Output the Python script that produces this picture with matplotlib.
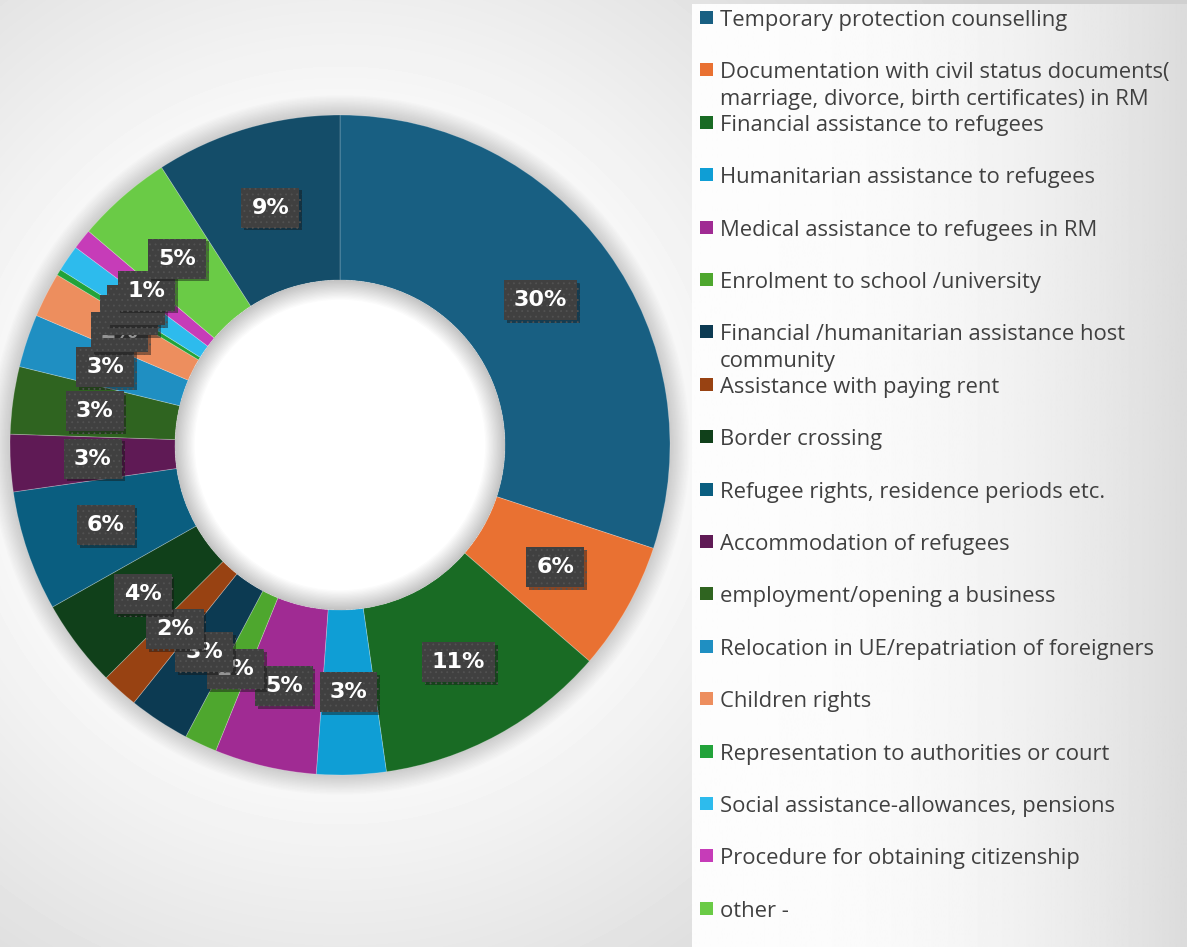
import numpy as np
import matplotlib.pyplot as plt
from matplotlib.patches import Rectangle, Wedge
import matplotlib.patheffects as pe

# categorias da legenda (a 19a fatia, 9%, nao aparece na legenda visivel)
categories = [
    'Temporary protection counselling',
    'Documentation with civil status documents(\nmarriage, divorce, birth certificates) in RM',
    'Financial assistance to refugees',
    'Humanitarian assistance to refugees',
    'Medical assistance to refugees in RM',
    'Enrolment to school /university',
    'Financial /humanitarian assistance host\ncommunity',
    'Assistance with paying rent',
    'Border crossing',
    'Refugee rights, residence periods etc.',
    'Accommodation of refugees',
    'employment/opening a business',
    'Relocation in UE/repatriation of foreigners',
    'Children rights',
    'Representation to authorities or court',
    'Social assistance-allowances, pensions',
    'Procedure for obtaining citizenship',
    'other -',
]

# percentagens (sentido horario a partir do topo)
values = [30.1, 6.3, 11.4, 3.4, 5.0, 1.6, 3.0, 1.8, 4.3, 5.9,
          2.8, 3.3, 2.6, 2.2, 0.3, 1.3, 1.0, 4.7, 9.1]

colors = ['#185f82', '#e97132', '#196b24', '#0f9ed5', '#a02b93', '#4ea72e',
          '#0c3a52', '#984212', '#10401a', '#0a5e80', '#5f1a55', '#2f6420',
          '#1f8fc2', '#ed8e5e', '#22a33a', '#2dbbed', '#c63cb8', '#6acb46',
          '#144d69']

plt.rcParams['hatch.linewidth'] = 0.6

W, H = 1187, 947
fig = plt.figure(figsize=(W / 100, H / 100), dpi=100)

# fundo com gradiente
bg = fig.add_axes([0, 0, 1, 1])
bg.axis('off')
yy, xx = np.mgrid[0:H, 0:W]
r = np.hypot(xx - 340, yy - 445)
grad = 0.985 - 0.17 * np.clip((r - 300) / 480, 0, 1)
bg.imshow(grad, cmap='gray', vmin=0, vmax=1, extent=[0, W, H, 0], aspect='auto')
xs = np.linspace(0, 1, 400)
panel = 0.99 - 0.13 * xs ** 2.5
bg.imshow(np.tile(panel, (2, 1)), cmap='gray', vmin=0, vmax=1,
          extent=[692, W, H, 4], aspect='auto')
bg.set_xlim(0, W)
bg.set_ylim(H, 0)

# rosca
ax = fig.add_axes([10 / W, 1 - 775 / H, 660 / W, 660 / H])
ax.axis('off')

# sombra externa
for k in range(1, 16):
    ax.add_patch(Wedge((0, 0.0), 1 + k * 0.004, 0, 360, width=k * 0.004 + 0.01,
                       color='black', alpha=0.012, lw=0, clip_on=False, zorder=0))

ax.pie(values, colors=colors, startangle=90, counterclock=False, radius=1,
       wedgeprops=dict(width=0.5, linewidth=0.6, edgecolor=(1, 1, 1, 0.25)))
ax.set_xlim(-1, 1)
ax.set_ylim(-1, 1)
ax.set_aspect('equal')

# sombra interna do buraco
ax.add_patch(Wedge((0, 0), 0.5, 0, 360, width=0.5, color='white', lw=0, zorder=3))
for k in range(1, 16):
    ax.add_patch(Wedge((0, 0), 0.5, 0, 360, width=k * 0.004,
                       color='black', alpha=0.015, lw=0, zorder=3))

# rotulos de percentagem
total = sum(values)
cum = 0
for i, v in enumerate(values):
    ang = np.deg2rad(90 - 360 * (cum + v / 2) / total)
    cum += v
    t = ax.text(0.75 * np.cos(ang), 0.75 * np.sin(ang), f'{round(v)}%',
                ha='center', va='center', color='white', fontsize=16,
                fontweight='bold', family='DejaVu Sans', zorder=5,
                bbox=dict(boxstyle='square,pad=0.45', fc='#404040',
                          ec='#525252', lw=0, hatch='...'))
    t.get_bbox_patch().set_path_effects(
        [pe.SimplePatchShadow(offset=(2, -2), alpha=0.45), pe.Normal()])

# legenda manual
for i, lab in enumerate(categories):
    y = 18 + 52.4 * i
    bg.add_patch(Rectangle((700, y - 7), 13, 13, color=colors[i], lw=0))
    bg.text(720, y - 8, lab, va='top', ha='left', fontsize=15.8,
            color='#404040', family='Open Sans', linespacing=1.32)

fig.savefig('out.png', dpi=100)
